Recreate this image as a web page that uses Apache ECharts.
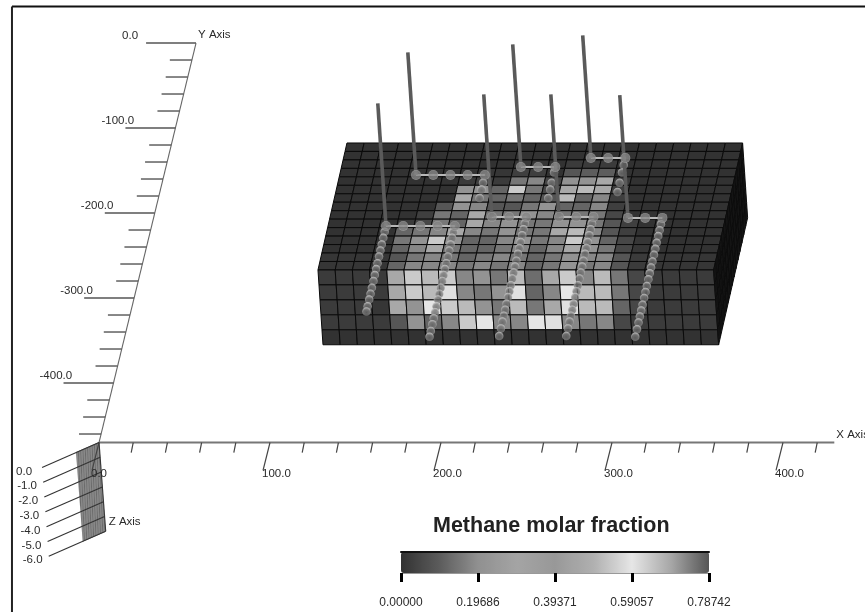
<!DOCTYPE html>
<html>
<head>
<meta charset="utf-8">
<style>
html,body{margin:0;padding:0;background:#fff;}
#c{width:865px;height:612px;filter:blur(0.45px);}
</style>
<script src="https://cdn.jsdelivr.net/npm/echarts@6/dist/echarts.min.js"></script>
</head>
<body>
<div id="c"></div>
<script>
// ---- tick labels ----
const xTickLabels = ['0.0','100.0','200.0','300.0','400.0'];
const yTickLabels = ['0.0','-100.0','-200.0','-300.0','-400.0'];
const zTickLabels = ['0.0','-1.0','-2.0','-3.0','-4.0','-5.0','-6.0'];
const legendTicks = ['0.00000','0.19686','0.39371','0.59057','0.78742'];
const legendTitle = 'Methane molar fraction';

// ---- methane molar fraction, top face of the block (15 rows, back to front, 23 columns) ----
const topRow00 = [0,0,0,0,0,0,0,0,0,0,0,0,0,0,0,0,0,0,0,0,0,0,0];
const topRow01 = [0,0,0,0,0,0,0,0,0,0,0,0,0,0,0,0,0,0,0,0,0,0,0];
const topRow02 = [0,0,0,0,0,0,0,0,0,0,0.01,0.01,0,0.02,0.02,0.02,0,0,0,0,0,0,0];
const topRow03 = [0,0,0,0,0,0,0,0,0.01,0.01,0.03,0.03,0,0.085,0.1,0.1,0,0,0,0,0,0,0];
const topRow04 = [0,0,0,0,0,0,0,0.02,0.03,0.02,0.15,0.18,0.05,0.21,0.21,0.46,0.02,0,0,0,0,0,0];
const topRow05 = [0,0,0,0,0,0,0,0.21,0.21,0.115,0.54,0.15,0.05,0.46,0.51,0.46,0.03,0,0,0,0,0,0];
const topRow06 = [0,0,0,0,0,0,0,0.46,0.15,0.115,0.15,0.115,0.08,0.51,0.115,0.18,0.03,0,0,0,0,0,0];
const topRow07 = [0,0,0,0,0,0,0.085,0.21,0.18,0.085,0.085,0.15,0.21,0.115,0.115,0.18,0.03,0,0,0,0,0,0];
const topRow08 = [0,0,0,0,0,0.03,0.15,0.115,0.46,0.15,0.15,0.21,0.18,0.15,0.15,0.15,0.05,0,0,0,0,0,0];
const topRow09 = [0,0,0,0,0.02,0.05,0.15,0.115,0.46,0.18,0.21,0.15,0.15,0.21,0.21,0.15,0.085,0.03,0,0,0,0,0];
const topRow10 = [0,0,0,0,0.115,0.15,0.18,0.46,0.18,0.15,0.21,0.15,0.15,0.46,0.51,0.18,0.085,0.03,0,0,0,0,0];
const topRow11 = [0,0,0,0,0.15,0.21,0.54,0.21,0.115,0.115,0.18,0.21,0.15,0.18,0.54,0.21,0.115,0.05,0.01,0,0,0,0];
const topRow12 = [0,0,0,0,0.115,0.18,0.46,0.15,0.115,0.115,0.15,0.18,0.115,0.18,0.46,0.21,0.15,0.05,0.01,0,0,0,0];
const topRow13 = [0.01,0.01,0.01,0.01,0.085,0.15,0.18,0.15,0.115,0.15,0.18,0.15,0.115,0.15,0.21,0.18,0.18,0.085,0.02,0.01,0.01,0.01,0.01];
const topRow14 = [0.01,0.01,0.01,0.01,0.115,0.18,0.18,0.18,0.15,0.18,0.15,0.18,0.115,0.15,0.21,0.15,0.18,0.085,0.02,0.01,0.01,0.01,0.01];

// ---- front face of the block (5 layers, top to bottom, 23 columns) ----
const frontRow0 = [0.02,0.02,0.02,0.02,0.46,0.54,0.51,0.54,0.18,0.21,0.15,0.51,0.13,0.46,0.54,0.18,0.51,0.15,0.05,0.02,0.02,0.02,0.02];
const frontRow1 = [0.02,0.02,0.02,0.02,0.46,0.54,0.51,0.58,0.18,0.15,0.21,0.58,0.115,0.18,0.59,0.51,0.51,0.15,0.05,0.02,0.02,0.02,0.02];
const frontRow2 = [0.02,0.02,0.02,0.01,0.46,0.21,0.59,0.54,0.51,0.21,0.15,0.51,0.15,0.46,0.58,0.51,0.51,0.115,0.05,0.02,0.02,0.02,0.02];
const frontRow3 = [0.02,0.02,0.02,0.02,0.085,0.21,0.115,0.18,0.54,0.59,0.18,0.18,0.59,0.58,0.18,0.15,0.18,0.05,0.02,0.02,0.02,0.02,0.02];
const frontRow4 = [0,0,0,0,0,0,0,0,0,0,0,0,0,0,0,0,0,0,0,0,0,0,0];

const topRows = [topRow00,topRow01,topRow02,topRow03,topRow04,topRow05,topRow06,topRow07,topRow08,topRow09,topRow10,topRow11,topRow12,topRow13,topRow14];
const frontRows = [frontRow0,frontRow1,frontRow2,frontRow3,frontRow4];

// ---- wells: column/row on the block's grid ----
const wellLateral1 = [3.37,4.37,5.37,6.37,7.37];
const wellLateral2 = [4.44,5.44,6.44,7.44,8.44];
const wellLateral3 = [9.41,10.41,11.41];
const wellLateral4 = [10.43,11.43,12.43];
const wellLateral5 = [13.31,14.31,15.31];
const wellLateral6 = [14.38,15.38,16.38];
const wellLateral7 = [17.33,18.33,19.33];
const wellLaterals = [wellLateral1,wellLateral2,wellLateral3,wellLateral4,wellLateral5,wellLateral6,wellLateral7];
const wellHeadRows = [9.8,3.78,8.74,2.83,8.74,1.77,8.85];

const dropCols = [3.37,7.37,8.44,11.41,12.43,15.31,16.38,19.33];
const dropRowsA = [10.5,11.2,12.0,12.7,13.4,14.2,14.9,15.6,16.3,17.1,17.8,18.5,19.3,19.9];
const dropRowsB = [10.5,11.2,12.0,12.7,13.4,14.2,14.9,15.6,16.3,17.1,17.8,18.5,19.3,20.0,20.7,21.4,22.2,22.9];
const dropRowsC = [4.7,5.5,6.5];
const dropRowsD = [9.5,10.2,10.9,11.7,12.4,13.1,13.9,14.6,15.3,16.0,16.8,17.5,18.2,19.0,19.7,20.4,21.1,21.9,22.8];
const dropRowsE = [3.5,4.7,5.5,6.5];
const dropRowsF = [9.5,10.2,10.9,11.7,12.4,13.1,13.9,14.6,15.3,16.0,16.8,17.5,18.2,19.0,19.7,20.4,21.1,21.9,22.8];
const dropRowsG = [2.6,3.5,4.7,5.8];
const dropRowsH = [9.6,10.3,11.0,11.8,12.5,13.2,14.0,14.7,15.4,16.1,16.9,17.6,18.3,19.1,19.8,20.5,21.2,22.0,22.9];
const dropRows = [dropRowsA,dropRowsB,dropRowsC,dropRowsD,dropRowsE,dropRowsF,dropRowsG,dropRowsH];

// ---- colour scale of the legend ----
const scaleGreys = ['#323232','#5c5c5c','#909090','#a4a4a4','#989898','#b0b0b0','#e6e6e6','#a8a8a8','#555555'];

// ---- geometry of the oblique view, in axis units ----
const font = 'Liberation Sans';
const xMin = -57.9, xMax = 447.95, yMin = -669.4, yMax = 50.6;
const COLS = 23, ROWS = 15, LAYERS = 5;
const STEM_HEIGHT = -8.2;
function gridPt(i, j, k) { // column, row, layer on the block
  return [145 + 10.06 * i - 1.13 * j + 0.585 * k, -117.6 - 9.96 * j - 17.6 * k];
}
function proj3(X, Y, Z) { // sheared axes of the view
  return [X + 0.1207 * (Y + 470) - 0.65 * Z * 1, Y + 17.4 * Z];
}

// ---- cells ----
const cells = [];
for (let j = 0; j < ROWS; j++) for (let i = 0; i < COLS; i++) cells.push([i, j, 0, topRows[j][i]]);
for (let k = 0; k < LAYERS; k++) for (let i = 0; i < COLS; i++) cells.push([i, k, 1, frontRows[k][i]]);
for (let k = 0; k < LAYERS; k++) for (let j = 0; j < ROWS; j++) cells.push([j, k, 2, 0]);

function renderCell(params, api) {
  const a = api.value(0), b = api.value(1), face = api.value(2);
  let c;
  if (face === 0) c = [gridPt(a,b,0), gridPt(a+1,b,0), gridPt(a+1,b+1,0), gridPt(a,b+1,0)];
  else if (face === 1) c = [gridPt(a,ROWS,b), gridPt(a+1,ROWS,b), gridPt(a+1,ROWS,b+1), gridPt(a,ROWS,b+1)];
  else c = [gridPt(COLS,a,b), gridPt(COLS,a+1,b), gridPt(COLS,a+1,b+1), gridPt(COLS,a,b+1)];
  return {
    type: 'polygon',
    shape: { points: c.map(p => api.coord(p)) },
    style: { fill: face === 2 ? '#141414' : api.visual('color'), stroke: face === 2 ? '#0c0c0c' : '#0a0a0a', lineWidth: 1 }
  };
}

// ---- axes of the view ----
function renderAxes(params, api) {
  const kids = [], labels = [];
  const seg = (a, b, stroke, lw) => {
    const p = api.coord(a), q = api.coord(b);
    kids.push({ type:'line', shape:{x1:p[0],y1:p[1],x2:q[0],y2:q[1]}, style:{stroke:stroke,lineWidth:lw} });
  };
  const txt = (a, dx, dy, s, size) => {
    const p = api.coord(a);
    labels.push({ type:'text', style:{ text:s, x:p[0]+dx, y:p[1]+dy, fill:'#2a2a2a', font:(size||11.5)+'px "'+font+'"', textAlign:'left', textVerticalAlign:'middle' } });
  };
  // frame
  seg([-50.9,42.9],[xMax,42.9],'#111',2);
  seg([-50.9,42.9],[-50.9,yMin],'#222',2);
  // X axis
  seg(proj3(0,-470,0),proj3(430,-470,0),'#777',1.8);
  for (let v = 0; v <= 420; v += 20) {
    const o = proj3(v,-470,0), major = v % 100 === 0;
    seg(o,[o[0]+(major?-4.09:-1.17),o[1]+(major?-32.9:-11.8)],'#444',1.2);
    if (major) txt([o[0]-4.09,o[1]-32.9],-1,3,xTickLabels[v/100]);
  }
  txt(proj3(430,-470,0),2,-8,'X Axis');
  // Y axis
  seg(proj3(0,-470,0),proj3(0,0,0),'#666',1.1);
  for (let v = 0; v >= -460; v -= 20) {
    const o = proj3(0,v,0), major = v % 100 === 0;
    seg(o,[o[0]+(major?-29.2:-12.9),o[1]],'#555',1.4);
    if (major) txt([o[0]-29.2,o[1]],-24,-7,yTickLabels[-v/100]);
  }
  txt(proj3(0,0,0),2,-8,'Y Axis');
  // Z axis
  seg(proj3(0,-470,0),proj3(0,-470,-6),'#333',1.2);
  for (let t = 0; t <= 90; t++) {
    const z = -t/15, o = proj3(0,-470,z);
    seg(o,[o[0]-13.45,o[1]-11.8],'#444',0.8);
  }
  for (let t = 0; t <= 6; t++) {
    const o = proj3(0,-470,-t);
    seg(o,[o[0]-33.3,o[1]-29.4],'#333',1.1);
    txt([o[0]-33.3,o[1]-29.4],-26,4,zTickLabels[t]);
  }
  txt(proj3(0,-470,-6),3,-9,'Z Axis');
  return { type:'group', children:kids.concat(labels) };
}

// ---- wells ----
const wellSeries = [];
wellLaterals.forEach((lat, w) => {
  const r = wellHeadRows[w];
  wellSeries.push({
    type:'line', xAxisIndex:0, yAxisIndex:0, symbol:'none', silent:true, z:4, animation:false,
    lineStyle:{color:'#b8b8b8',width:2},
    data: lat.map(c => gridPt(c,r,0))
  });
  wellSeries.push({
    type:'line', xAxisIndex:0, yAxisIndex:0, symbol:'none', silent:true, z:6, animation:false,
    lineStyle:{color:'#5a5a5a',width:3.6},
    data: [gridPt(lat[0],r,0), gridPt(lat[0],r,STEM_HEIGHT)]
  });
  wellSeries.push({
    type:'scatter', xAxisIndex:0, yAxisIndex:0, silent:true, z:7, animation:false, symbolSize:10,
    itemStyle:{color:{type:'radial',x:.5,y:.5,r:.55,colorStops:[{offset:0,color:'#8e8e8e'},{offset:.7,color:'#858585'},{offset:1,color:'#b4b4b4'}]}},
    data: lat.map(c => gridPt(c,r,0))
  });
});
dropRows.forEach((rows, d) => {
  wellSeries.push({
    type:'scatter', xAxisIndex:0, yAxisIndex:0, silent:true, z:5, animation:false, symbolSize:8.5,
    itemStyle:{color:{type:'radial',x:.5,y:.62,r:.6,colorStops:[{offset:0,color:'#666'},{offset:.6,color:'#7c7c7c'},{offset:1,color:'#cfcfcf'}]}},
    data: rows.map(r => gridPt(dropCols[d],r,0))
  });
});

const option = {
  animation:false,
  backgroundColor:'#fff',
  title:{ text:legendTitle, left:433, top:515, textStyle:{fontFamily:font,fontSize:21.5,fontWeight:'bold',color:'#222'}, padding:0 },
  tooltip:{show:false},
  grid:[
    {left:0,top:0,right:0,bottom:0},
    {left:401,top:552,width:308,height:21}
  ],
  xAxis:[
    {type:'value',gridIndex:0,min:xMin,max:xMax,show:false},
    {type:'category',gridIndex:1,data:legendTicks,boundaryGap:false,position:'bottom',z:10,
      axisLine:{show:true,lineStyle:{color:'#999',width:1}},
      axisTick:{show:true,length:9,alignWithLabel:true,lineStyle:{color:'#000',width:3}},
      axisLabel:{margin:24,fontFamily:font,fontSize:12,color:'#2a2a2a',interval:0,hideOverlap:false}},
    {type:'category',gridIndex:1,data:legendTicks,boundaryGap:false,position:'top',z:10,
      axisLine:{show:true,lineStyle:{color:'#111',width:2}},axisTick:{show:false},axisLabel:{show:false}}
  ],
  yAxis:[
    {type:'value',gridIndex:0,min:yMin,max:yMax,show:false},
    {type:'value',gridIndex:1,min:0,max:1,show:false}
  ],
  visualMap:[{
    type:'continuous',min:0,max:0.78742,dimension:3,seriesIndex:0,
    orient:'horizontal',left:401,top:552,itemWidth:21,itemHeight:308,padding:0,
    calculable:false,realtime:false,hoverLink:false,text:null,showLabel:false,z:1,
    inRange:{color:scaleGreys}, textStyle:{color:'transparent',fontSize:1}, formatter:() => ''
  }],
  series:[
    {type:'custom',name:'cells',xAxisIndex:0,yAxisIndex:0,silent:true,clip:false,z:2,renderItem:renderCell,data:cells,animation:false},
    {type:'custom',name:'axes',xAxisIndex:0,yAxisIndex:0,silent:true,clip:false,z:3,renderItem:renderAxes,data:[[0,0]],animation:false}
  ].concat(wellSeries)
};
const chart = echarts.init(document.getElementById('c'),null,{renderer:'canvas'});
chart.setOption(option);
</script>
</body>
</html>
